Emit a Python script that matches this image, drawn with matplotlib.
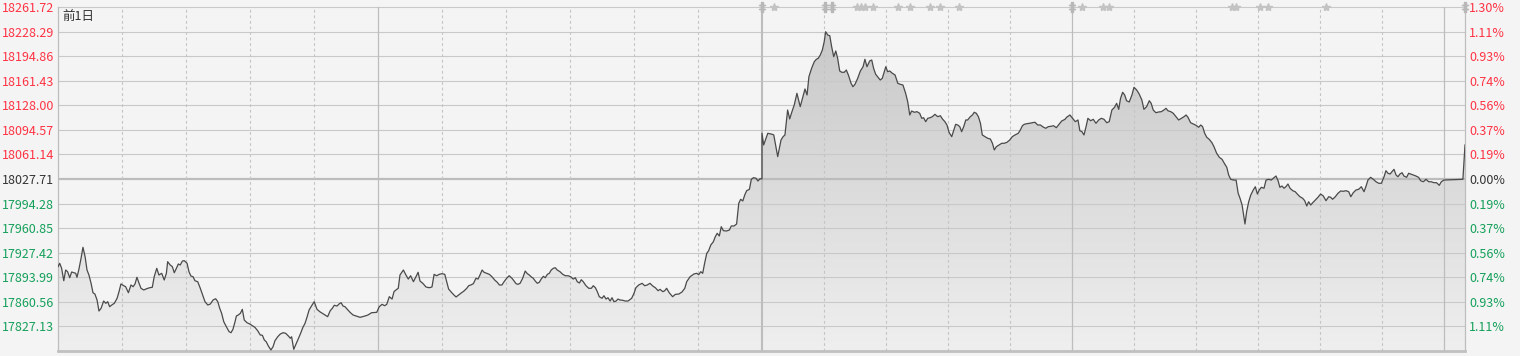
"""Two-day intraday index chart (previous session + today) with % axis."""

import matplotlib
matplotlib.use("Agg")
import matplotlib.pyplot as plt
import numpy as np
from matplotlib.colors import LinearSegmentedColormap

plt.rcParams['font.family'] = ['Noto Sans CJK SC', 'DejaVu Sans']

# ---------------------------------------------------------------------------
# Data
# ---------------------------------------------------------------------------

PREV_CLOSE = 18027.71
BOTTOM_LEVEL = 17793.70

price_labels = ["18261.72", "18228.29", "18194.86", "18161.43", "18128.00",
                "18094.57", "18061.14", "18027.71", "17994.28", "17960.85",
                "17927.42", "17893.99", "17860.56", "17827.13"]
pct_labels = ["1.30%", "1.11%", "0.93%", "0.74%", "0.56%", "0.37%", "0.19%",
              "0.00%", "0.19%", "0.37%", "0.56%", "0.74%", "0.93%", "1.11%"]

# minutes since the open of the previous session (each session = 330 min,
# today's session starts at 330, closing auction 660-670)
prev_minutes = [
    0, 0.8, 1.7, 2.7, 3.6, 4.5, 5.5, 6.4, 7.4, 8.3,
    8.9, 9.8, 10.8, 11.7, 12.7, 13.6, 14.5, 15.5, 16.4, 17.3,
    18.3, 19.2, 20.2, 21.4, 22.4, 23.3, 24.2, 25.2, 26.4, 27.7,
    28.6, 29.5, 30.8, 31.7, 33.0, 34.2, 35.2, 36.1, 37.0, 38.0,
    38.9, 40.2, 41.6, 43.0, 44.2, 45.1, 46.3, 47.3, 48.6, 49.8,
    50.8, 51.4, 52.6, 53.6, 54.5, 55.5, 56.4, 57.3, 58.3, 59.2,
    60.5, 61.4, 62.3, 63.3, 64.2, 65.5, 66.7, 68.0, 68.9, 70.2,
    71.4, 72.7, 73.9, 74.9, 75.8, 76.7, 77.7, 78.9, 80.2, 81.1,
    82.0, 83.0, 83.6, 84.5, 85.5, 86.4, 87.3, 88.6, 89.9, 91.1,
    92.3, 93.6, 94.8, 95.8, 96.7, 97.6, 98.6, 99.8, 100.8, 101.7,
    103.0, 104.2, 105.5, 106.7, 108.0, 108.9, 109.5, 110.5, 111.4, 112.4,
    113.6, 114.8, 115.8, 116.7, 117.7, 118.9, 120.1, 121.4, 122.7, 123.9,
    125.2, 126.4, 127.6, 128.6, 129.5, 130.8, 131.7, 132.7, 133.6, 134.5,
    136.9, 138.3, 141.6, 143.9, 145.3, 147.0, 149.4, 150.6, 151.9, 153.1,
    154.1, 155.3, 156.6, 157.5, 158.4, 159.5, 160.3, 161.9, 163.1, 164.2,
    165.3, 166.6, 167.8, 168.8, 169.7, 171.0, 172.5, 174.0, 175.3, 176.3,
    177.5, 178.7, 180.0, 181.3, 182.2, 183.1, 184.4, 185.6, 186.6, 187.8,
    189.0, 190.3, 191.6, 192.5, 193.5, 194.7, 195.9, 196.9, 197.8, 198.8,
    199.7, 201.0, 202.2, 203.4, 204.7, 205.9, 206.9, 208.1, 209.1, 210.3,
    211.5, 212.8, 213.8, 214.7, 215.6, 216.6, 217.8, 219.0, 220.0, 220.9,
    221.9, 222.8, 223.7, 224.7, 225.6, 226.5, 227.5, 228.4, 229.4, 230.3,
    231.2, 232.2, 233.1, 234.0, 235.3, 236.6, 237.8, 239.1, 240.3, 241.5,
    242.5, 243.4, 244.4, 245.3, 246.2, 247.5, 248.8, 250.0, 250.9, 251.9,
    252.8, 253.7, 255.0, 255.9, 256.9, 257.8, 258.8, 259.7, 260.6, 261.6,
    262.5, 263.4, 264.7, 265.9, 267.2, 268.9, 270.0, 270.9, 272.2, 273.8,
    275.0, 276.2, 277.5, 278.8, 280.0, 281.3, 282.2, 283.5, 284.4, 285.3,
    286.5, 288.1, 289.4, 291.0, 292.5, 293.8, 294.7, 296.3, 298.1, 299.4,
    300.3, 301.3, 302.2, 303.1, 304.1, 305.0, 306.0, 307.2, 308.1, 309.0,
    310.0, 310.9, 311.9, 313.4, 314.7, 315.6, 316.9, 318.1, 319.1, 320.0,
    321.0, 321.9, 322.8, 324.1, 325.0, 326.0, 327.2, 328.1, 329.1, 330.0,
]
prev_prices = [
    17908.4, 17913.0, 17906.2, 17889.3, 17903.9, 17901.6, 17893.4, 17901.2, 17900.2, 17899.4,
    17894.0, 17904.9, 17919.8, 17934.8, 17922.0, 17903.9, 17897.1, 17885.8, 17873.0, 17871.2,
    17863.1, 17848.1, 17851.8, 17861.7, 17858.6, 17860.8, 17854.0, 17856.3, 17858.6, 17865.4,
    17874.4, 17884.9, 17882.5, 17881.2, 17873.0, 17883.5, 17881.2, 17884.9, 17894.0, 17885.8,
    17879.0, 17876.7, 17878.5, 17879.8, 17880.4, 17894.8, 17906.2, 17897.1, 17899.4, 17890.3,
    17899.4, 17915.2, 17910.7, 17908.4, 17900.2, 17906.2, 17912.1, 17910.7, 17916.1, 17916.6,
    17913.0, 17901.6, 17895.7, 17894.8, 17889.3, 17888.0, 17879.0, 17868.5, 17860.8, 17856.3,
    17857.6, 17863.1, 17864.8, 17860.8, 17851.8, 17845.0, 17833.6, 17826.8, 17820.0, 17818.6,
    17823.2, 17833.6, 17841.3, 17842.7, 17845.0, 17850.4, 17835.9, 17832.2, 17830.4, 17828.1,
    17825.9, 17821.3, 17815.5, 17815.1, 17808.7, 17806.3, 17800.5, 17795.1, 17799.5, 17807.7,
    17813.1, 17816.8, 17818.6, 17817.8, 17814.1, 17811.0, 17813.1, 17796.0, 17801.9, 17808.7,
    17816.8, 17825.9, 17831.4, 17839.5, 17849.5, 17855.3, 17860.8, 17850.4, 17847.2, 17845.0,
    17842.7, 17840.4, 17848.5, 17851.8, 17855.9, 17854.9, 17857.6, 17859.4, 17854.9, 17854.0,
    17846.3, 17842.7, 17839.5, 17841.3, 17842.7, 17845.8, 17846.3, 17854.0, 17857.2, 17855.3,
    17857.2, 17867.6, 17864.4, 17874.4, 17876.7, 17879.0, 17897.1, 17903.9, 17897.1, 17891.6,
    17896.1, 17888.0, 17894.8, 17900.8, 17888.9, 17885.8, 17880.8, 17879.8, 17880.8, 17898.0,
    17896.1, 17898.0, 17898.9, 17898.0, 17888.0, 17878.0, 17873.6, 17869.9, 17867.2, 17869.9,
    17872.6, 17875.3, 17879.0, 17882.5, 17883.5, 17885.3, 17892.6, 17891.6, 17897.1, 17903.9,
    17900.8, 17899.4, 17898.0, 17894.8, 17890.3, 17887.2, 17883.5, 17883.5, 17888.0, 17892.6,
    17896.1, 17892.6, 17888.9, 17885.3, 17884.4, 17885.8, 17892.6, 17902.5, 17898.9, 17897.1,
    17894.4, 17892.6, 17888.9, 17885.8, 17887.2, 17891.6, 17895.3, 17893.4, 17898.0, 17899.4,
    17903.9, 17906.2, 17907.0, 17903.9, 17901.6, 17898.0, 17896.1, 17896.1, 17894.8, 17891.6,
    17893.4, 17888.0, 17886.2, 17890.7, 17888.0, 17882.5, 17879.0, 17879.0, 17882.5, 17879.8,
    17874.4, 17867.6, 17865.4, 17868.9, 17864.4, 17866.2, 17861.7, 17866.2, 17860.8, 17861.7,
    17864.4, 17863.1, 17862.7, 17861.7, 17861.7, 17865.4, 17872.2, 17879.8, 17883.5, 17885.8,
    17882.5, 17883.5, 17885.8, 17882.1, 17879.8, 17875.7, 17877.6, 17874.4, 17875.7, 17879.0,
    17873.0, 17867.6, 17870.8, 17871.2, 17874.0, 17879.0, 17888.0, 17894.8, 17898.5, 17899.4,
    17897.5, 17901.6, 17899.4, 17913.0, 17926.6, 17930.2, 17937.9, 17942.4, 17949.2, 17953.8,
    17950.2, 17962.8, 17957.4, 17957.0, 17958.3, 17963.8, 17963.8, 17966.5, 17994.6, 18000.1,
    17997.8, 18005.9, 18011.8, 18013.7, 18027.3, 18029.5, 18028.7, 18025.0, 18028.1, 18027.7,
]

today_minutes = [
    330.0, 330.8, 332.8, 335.0, 335.7, 337.6, 339.2, 340.2, 341.1, 342.4,
    343.4, 344.4, 345.6, 346.9, 348.5, 349.8, 350.8, 351.8, 352.7, 354.0,
    355.3, 356.3, 357.2, 358.2, 359.2, 360.1, 360.8, 361.8, 362.8, 363.7,
    364.7, 365.7, 366.6, 367.6, 368.6, 369.8, 370.8, 371.8, 373.1, 374.0,
    375.0, 376.3, 377.6, 378.9, 379.8, 380.8, 382.1, 383.1, 384.0, 385.0,
    386.3, 387.2, 388.2, 389.2, 389.9, 390.8, 391.8, 393.1, 394.4, 395.7,
    396.9, 398.2, 399.5, 400.5, 401.5, 402.4, 403.7, 405.0, 406.3, 407.3,
    408.2, 409.2, 410.2, 411.4, 412.4, 413.7, 415.0, 416.3, 417.3, 418.5,
    419.5, 420.5, 421.8, 422.8, 423.7, 424.7, 425.7, 426.6, 427.6, 428.6,
    429.5, 430.8, 431.8, 432.7, 433.7, 434.7, 435.7, 436.6, 437.9, 439.2,
    440.5, 441.5, 442.4, 443.4, 444.7, 446.0, 447.2, 448.5, 449.9, 451.1,
    452.4, 454.0, 455.0, 456.0, 456.9, 458.2, 459.5, 460.8, 462.1, 463.4,
    464.7, 466.0, 467.3, 468.5, 469.8, 471.1, 472.4, 473.7, 475.0, 476.6,
    477.4, 479.0, 480.3, 481.6, 482.9, 483.8, 484.8, 485.8, 486.8, 487.7,
    489.0, 490.3, 491.6, 492.9, 494.2, 495.5, 496.8, 498.0, 499.3, 500.6,
    501.6, 502.6, 503.5, 504.5, 505.5, 506.4, 507.7, 509.0, 510.0, 511.3,
    512.5, 513.8, 514.8, 516.1, 517.4, 518.3, 519.3, 520.6, 521.9, 523.2,
    524.5, 525.5, 526.4, 527.8, 529.0, 530.3, 531.6, 532.9, 534.2, 535.2,
    536.1, 537.4, 538.7, 540.0, 541.3, 542.3, 543.2, 544.2, 545.2, 546.4,
    547.7, 548.7, 550.0, 551.3, 552.6, 553.9, 554.9, 555.8, 556.8, 558.1,
    559.4, 560.4, 561.3, 562.3, 562.9, 563.7, 564.5, 565.5, 566.5, 567.7,
    568.7, 569.7, 570.6, 571.6, 572.9, 573.9, 575.2, 576.4, 577.4, 578.7,
    579.7, 580.6, 581.6, 582.6, 583.5, 584.5, 585.5, 586.8, 588.0, 589.0,
    590.3, 591.6, 592.6, 593.6, 594.5, 595.5, 596.5, 597.7, 599.0, 600.3,
    601.6, 602.9, 604.2, 605.2, 606.1, 607.4, 608.7, 610.0, 611.3, 612.6,
    613.9, 614.9, 616.1, 617.4, 618.7, 620.0, 621.3, 622.3, 623.2, 624.5,
    625.8, 627.1, 628.4, 629.7, 631.0, 631.9, 632.9, 633.9, 634.8, 635.8,
    636.8, 637.7, 638.7, 639.7, 640.6, 641.9, 642.9, 643.9, 645.1, 646.4,
    647.7, 648.7, 650.0, 651.3, 652.6, 653.8, 655.1, 656.4, 657.7, 658.7,
    660.0, 669.0, 670.0,
]
today_prices = [
    18089.9, 18074.0, 18089.9, 18088.5, 18087.6, 18058.1, 18080.8, 18085.3, 18087.6, 18121.6,
    18109.4, 18118.5, 18128.4, 18144.3, 18126.1, 18139.7, 18150.2, 18142.0, 18166.9, 18178.3,
    18187.3, 18190.6, 18191.9, 18196.4, 18203.2, 18214.5, 18228.1, 18223.6, 18222.7, 18207.7,
    18194.1, 18201.9, 18191.9, 18174.7, 18172.9, 18172.9, 18176.0, 18169.2, 18157.9, 18153.3,
    18156.6, 18164.7, 18174.7, 18180.5, 18190.6, 18180.5, 18188.3, 18189.6, 18178.3, 18170.2,
    18165.5, 18162.4, 18164.7, 18173.7, 18180.5, 18173.7, 18174.7, 18171.5, 18169.2, 18157.9,
    18156.6, 18155.6, 18144.3, 18132.9, 18114.8, 18120.2, 18118.5, 18119.3, 18117.1, 18110.3,
    18111.1, 18105.7, 18110.3, 18111.1, 18112.5, 18115.7, 18112.5, 18113.8, 18109.4, 18105.7,
    18101.2, 18091.3, 18085.3, 18094.4, 18102.1, 18101.2, 18098.9, 18092.1, 18098.9, 18108.0,
    18108.0, 18112.5, 18114.8, 18118.5, 18117.1, 18112.5, 18103.5, 18087.6, 18085.3, 18083.1,
    18082.1, 18076.3, 18067.2, 18071.7, 18074.0, 18076.3, 18076.3, 18077.6, 18080.8, 18085.3,
    18087.6, 18089.9, 18094.4, 18100.2, 18102.1, 18103.0, 18103.5, 18104.3, 18104.9, 18101.2,
    18101.2, 18098.5, 18096.7, 18098.9, 18099.4, 18100.2, 18097.5, 18102.1, 18106.6, 18108.9,
    18111.7, 18114.8, 18110.3, 18105.7, 18108.0, 18093.4, 18092.1, 18087.6, 18098.9, 18110.3,
    18107.0, 18108.9, 18103.5, 18108.0, 18110.3, 18108.9, 18104.3, 18105.7, 18121.6, 18125.3,
    18130.7, 18122.5, 18137.5, 18145.7, 18142.0, 18134.2, 18132.5, 18142.0, 18152.5, 18148.8,
    18143.4, 18135.2, 18122.5, 18126.1, 18134.2, 18130.7, 18121.6, 18117.9, 18118.9, 18119.3,
    18121.6, 18123.9, 18120.6, 18119.3, 18117.1, 18112.5, 18108.0, 18110.3, 18112.5, 18114.8,
    18111.7, 18104.3, 18102.5, 18100.8, 18098.1, 18101.2, 18098.9, 18089.9, 18084.5, 18081.7,
    18077.1, 18071.7, 18062.7, 18057.2, 18054.5, 18048.1, 18043.6, 18033.2, 18027.3, 18026.3,
    18026.3, 18008.3, 18001.5, 17992.3, 17981.0, 17966.5, 17983.2, 17996.8, 18005.9, 18012.7,
    18017.2, 18007.3, 18012.7, 18016.4, 18015.1, 18026.3, 18027.3, 18026.3, 18028.7, 18031.8,
    18025.4, 18016.4, 18018.2, 18015.1, 18017.2, 18020.9, 18015.1, 18011.8, 18010.4, 18007.3,
    18003.6, 18001.5, 17998.2, 17991.0, 17996.8, 17992.3, 17995.5, 17999.1, 18002.8, 18007.3,
    18004.6, 17998.2, 18003.6, 18002.8, 18000.1, 18003.6, 18008.3, 18011.4, 18011.0, 18011.8,
    18010.4, 18003.6, 18009.1, 18012.7, 18013.7, 18017.2, 18010.4, 18018.2, 18026.3, 18030.0,
    18027.3, 18024.0, 18021.9, 18021.9, 18030.8, 18039.0, 18035.5, 18034.5, 18037.6, 18040.9,
    18033.2, 18030.8, 18034.5, 18036.3, 18031.8, 18030.0, 18035.5, 18034.5, 18033.2, 18031.8,
    18030.0, 18025.4, 18024.0, 18027.3, 18024.0, 18024.0, 18022.7, 18022.7, 18019.1, 18024.0,
    18026.3, 18027.3, 18074.0,
]

# news / event flags along the top edge (minutes)
star_events = [335.8, 376.0, 377.9, 379.8, 383.9, 396.0, 401.8, 411.1, 416.0,
               425.2, 484.8, 495.1, 498.0, 557.5, 559.4, 570.9, 574.9, 602.9]
dagger_events = [330.0, 360.5, 363.9, 480.0, 670.0]

# ---------------------------------------------------------------------------
# Time axis: sessions are not drawn with the same width
# ---------------------------------------------------------------------------

SESSION_MIN = [0, 330, 660, 670]
SESSION_POS = [0, 704, 1386, 1407]
SOLID_MINUTES = [150, 330, 480, 660]


def _fwd(m):
    return np.interp(m, SESSION_MIN, SESSION_POS)


def _inv(p):
    return np.interp(p, SESSION_POS, SESSION_MIN)


BG = '#f4f4f4'
GRID = '#c9c9c9'
RED = '#ff3344'
GREEN = '#14a05a'
DARK = '#333333'

W, H = 1520, 356
fig = plt.figure(figsize=(W / 100, H / 100), dpi=100, facecolor=BG)
ax = fig.add_axes([58 / W, 1 - 351 / H, (1465 - 58) / W, (351 - 7) / H])
ax.set_facecolor(BG)
ax.set_xscale('function', functions=(_fwd, _inv))

minutes = np.array(prev_minutes + today_minutes)
prices = np.array(prev_prices + today_prices)

# ── gradient area under the curve ──────────────────────────────────────────
area = ax.fill_between(minutes, prices, BOTTOM_LEVEL, facecolor='none',
                       edgecolor='none', zorder=1)
cmap = LinearSegmentedColormap.from_list('area', ['#c6c6c6', '#efefef'])
grad = np.linspace(0, 1, 256).reshape(-1, 1)
im = ax.imshow(grad, cmap=cmap, extent=[0, 1, 0, 1], transform=ax.transAxes,
               aspect='auto', origin='upper', zorder=1)
im.set_clip_path(area.get_paths()[0], transform=ax.transData)

ax.set_xlim(0, 670)
ax.set_ylim(BOTTOM_LEVEL, float(price_labels[0]))

# ── grid ────────────────────────────────────────────────────────────────────
levels = [float(s) for s in price_labels]
for lv in levels[1:]:
    if abs(lv - PREV_CLOSE) < 1e-6:
        ax.axhline(lv, color='#bcbcbc', lw=1.6, zorder=2)
    else:
        ax.axhline(lv, color=GRID, lw=0.8, zorder=2)
ax.axhline(levels[0], color=GRID, lw=0.8, zorder=2, clip_on=False)

for m in range(30, 660, 30):
    if m in SOLID_MINUTES:
        ax.axvline(m, color='#bdbdbd', lw=1.5 if m == 330 else 0.9, zorder=2)
    else:
        ax.axvline(m, color='#c4c4c4', lw=0.8, ls=(0, (2.5, 2.5)), zorder=2)
ax.axvline(660, color='#bdbdbd', lw=0.9, zorder=2)

# ── price line ──────────────────────────────────────────────────────────────
ax.plot(minutes, prices, color='#4a4a4a', lw=0.9, zorder=3)

# ── event flags ─────────────────────────────────────────────────────────────
top = levels[0]
ax.plot(star_events, [top] * len(star_events), ls='none', marker='*', ms=6,
        color='#c3c3c3', clip_on=False, zorder=4)
ax.plot(dagger_events, [top] * len(dagger_events), ls='none',
        marker=r'$\ddagger$', ms=7, color='#b8b8b8', clip_on=False, zorder=4)

ax.text(0.003, 0.992, '前1日', transform=ax.transAxes, ha='left', va='top',
        fontsize=9, color=DARK, zorder=5)

# ── axes / labels ───────────────────────────────────────────────────────────
for side in ('top',):
    ax.spines[side].set_visible(False)
for side in ('left', 'right'):
    ax.spines[side].set_color('#bdbdbd')
    ax.spines[side].set_linewidth(0.9)
ax.spines['bottom'].set_color('#c0c0c0')
ax.spines['bottom'].set_linewidth(2.0)

ax.set_xticks([])
ax.set_xticks([], minor=True)


def _label_colors(labels):
    for lbl, lv in zip(labels, levels):
        if lv > PREV_CLOSE + 1e-6:
            lbl.set_color(RED)
        elif lv < PREV_CLOSE - 1e-6:
            lbl.set_color(GREEN)
        else:
            lbl.set_color(DARK)


ax.set_yticks(levels)
ax.set_yticklabels(price_labels)
ax.tick_params(axis='y', length=0, pad=3, labelsize=9)
_label_colors(ax.get_yticklabels())

ax2 = ax.twinx()
ax2.set_ylim(ax.get_ylim())
ax2.set_yticks(levels)
ax2.set_yticklabels(pct_labels)
ax2.tick_params(axis='y', length=0, pad=3, labelsize=9)
for sp in ax2.spines.values():
    sp.set_visible(False)
_label_colors(ax2.get_yticklabels())

fig.savefig('out.png', dpi=100, facecolor=BG)
